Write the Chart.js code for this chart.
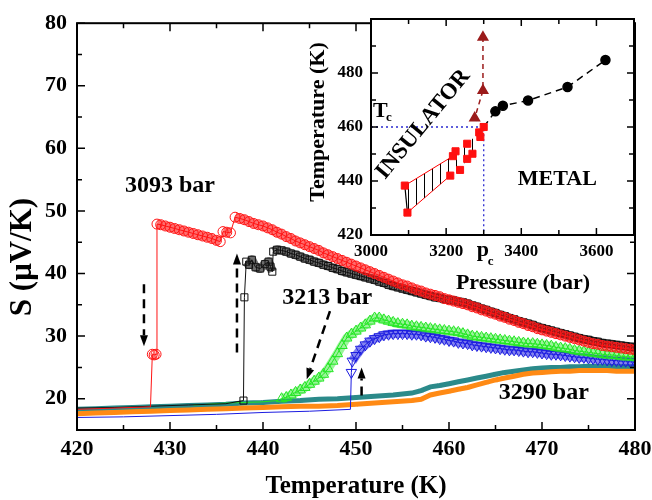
<!DOCTYPE html>
<html>
<head>
<meta charset="utf-8">
<script src="https://cdn.jsdelivr.net/npm/chart.js@4.4.1/dist/chart.umd.min.js"></script>
<style>
  html, body { margin: 0; padding: 0; background: #fff; }
  #wrap { position: relative; width: 652px; height: 500px; }
  #main { position: absolute; left: 0; top: 0; }
  #inset { position: absolute; left: 300px; top: 0; }
</style>
</head>
<body>
<div id="wrap">
  <canvas id="main" width="652" height="500"></canvas>
  <canvas id="inset" width="352" height="300"></canvas>
</div>
<script>
// ---- main panel: S(T) at three pressures ----
// 3093 bar, cooling (red circles); first points are the baseline below the jump
const redBase = 3;
const redT = [420, 424, 427.9, 428.1, 428.3, 428.5,
  428.6, 429, 429.5, 430, 430.5, 431, 431.5, 432, 432.5, 433, 433.5, 434, 434.5, 435, 435.4,
  435.7, 436.1, 436.5,
  437, 437.5, 438, 438.5, 439, 439.5,
  440, 440.5, 441, 441.5, 442, 442.5, 443, 443.5, 444, 444.5,
  445, 445.5, 446, 446.5, 447, 447.5, 448, 448.5, 449, 449.5,
  450, 450.5, 451, 451.5, 452, 452.5, 453, 453.5, 454, 454.5,
  455, 455.5, 456, 456.5, 457, 457.5, 458, 458.5, 459, 459.5,
  460, 460.5, 461, 461.5, 462, 462.5, 463, 463.5, 464, 464.5,
  465, 465.5, 466, 466.5, 467, 467.5, 468, 468.5, 469, 469.5,
  470, 470.5, 471, 471.5, 472, 472.5, 473, 473.5, 474, 474.5,
  475, 475.5, 476, 476.5, 477, 477.5, 478, 478.5, 479, 479.5, 480];
const redS = [18.3, 18.5, 18.7, 27.1, 27.0, 27.1,
  47.9, 47.8, 47.6, 47.4, 47.2, 47.0, 46.8, 46.6, 46.4, 46.2, 46.0, 45.8, 45.6, 45.3, 45.1,
  46.7, 46.6, 46.5,
  49.0, 48.8, 48.6, 48.3, 48.0, 47.8,
  47.6, 47.3, 47.0, 46.6, 46.3, 45.9, 45.6, 45.2, 44.9, 44.6,
  44.3, 44.0, 43.7, 43.3, 43.0, 42.7, 42.4, 42.1, 41.8, 41.5,
  41.2, 40.9, 40.6, 40.3, 40.0, 39.7, 39.4, 39.1, 38.8, 38.5,
  38.2, 38.0, 37.7, 37.4, 37.2, 36.9, 36.7, 36.5, 36.3, 36.0,
  35.8, 35.6, 35.4, 35.2, 35.0, 34.7, 34.5, 34.2, 34.0, 33.7,
  33.5, 33.2, 33.0, 32.7, 32.5, 32.2, 32.0, 31.7, 31.5, 31.2,
  31.0, 30.8, 30.6, 30.4, 30.2, 30.0, 29.8, 29.6, 29.4, 29.2,
  29.0, 28.8, 28.7, 28.5, 28.4, 28.3, 28.2, 28.1, 28.0, 27.9, 27.8];

// 3093 bar, heating (black squares)
const blackBase = 5;
const blackT = [420, 424, 428, 432, 436, 437.9,
  438.0, 438.2, 438.5, 438.8, 439.2, 439.7, 440.2, 440.6, 440.8, 441.0,
  441.1, 441.5, 442, 442.5, 443, 443.5, 444, 444.5,
  445, 445.5, 446, 446.5, 447, 447.5, 448, 448.5, 449, 449.5,
  450, 450.5, 451, 451.5, 452, 452.5, 453, 453.5, 454, 454.5,
  455, 455.5, 456, 456.5, 457, 457.5, 458, 458.5, 459, 459.5,
  460, 460.5, 461, 461.5, 462, 462.5, 463, 463.5, 464, 464.5,
  465, 465.5, 466, 466.5, 467, 467.5, 468, 468.5, 469, 469.5,
  470, 470.5, 471, 471.5, 472, 472.5, 473, 473.5, 474, 474.5,
  475, 475.5, 476, 476.5, 477, 477.5, 478, 478.5, 479, 479.5, 480];
const blackS = [18.5, 18.6, 18.8, 19.0, 19.2, 19.7,
  36.2, 41.9, 41.4, 42.2, 41.0, 40.8, 41.5, 41.9, 41.1, 40.3,
  43.5, 43.8, 43.7, 43.5, 43.2, 43.0, 42.7, 42.4,
  42.2, 41.9, 41.7, 41.4, 41.2, 40.9, 40.7, 40.4, 40.2, 40.0,
  39.8, 39.6, 39.4, 39.2, 39.0, 38.7, 38.5, 38.2, 38.0, 37.8,
  37.6, 37.4, 37.2, 37.0, 36.8, 36.6, 36.4, 36.2, 36.1, 35.9,
  35.8, 35.7, 35.5, 35.4, 35.2, 34.9, 34.7, 34.4, 34.2, 33.9,
  33.7, 33.4, 33.2, 32.9, 32.7, 32.4, 32.2, 32.0, 31.8, 31.5,
  31.3, 31.1, 30.9, 30.7, 30.5, 30.3, 30.1, 29.9, 29.7, 29.5,
  29.4, 29.2, 29.1, 28.9, 28.8, 28.7, 28.6, 28.5, 28.4, 28.3, 28.2];

// 3213 bar, heating (green up triangles)
const greenBase = 6;
const greenT = [432.5, 434, 436, 438, 440, 441.5,
  442, 442.5, 443, 443.5, 444, 444.5, 445, 445.5, 446, 446.5,
  447, 447.5, 448, 448.5, 449, 449.5, 450, 450.5, 451, 451.5,
  452, 452.5, 453, 453.5, 454, 454.5, 455, 455.5, 456, 456.5,
  457, 457.5, 458, 458.5, 459, 459.5, 460, 460.5, 461, 461.5,
  462, 462.5, 463, 463.5, 464, 464.5, 465, 465.5, 466, 466.5,
  467, 467.5, 468, 468.5, 469, 469.5, 470, 470.5, 471, 471.5,
  472, 472.5, 473, 473.5, 474, 474.5, 475, 475.5, 476, 476.5,
  477, 477.5, 478, 478.5, 479, 479.5, 480];
const greenS = [19.0, 19.1, 19.3, 19.4, 19.5, 19.7,
  20.0, 20.2, 20.6, 21.0, 21.4, 21.8, 22.3, 22.8, 23.3, 23.9,
  24.8, 26.0, 27.2, 28.5, 29.7, 30.3, 30.8, 31.3, 31.8, 32.4,
  32.9, 32.9, 32.6, 32.4, 32.2, 32.0, 31.9, 31.8, 31.6, 31.5,
  31.4, 31.3, 31.2, 31.1, 31.0, 30.9, 30.8, 30.7, 30.6, 30.4,
  30.2, 30.0, 29.9, 29.8, 29.7, 29.6, 29.5, 29.4, 29.3, 29.2,
  29.1, 29.0, 28.9, 28.8, 28.8, 28.7, 28.6, 28.5, 28.4, 28.2,
  28.1, 28.0, 27.9, 27.7, 27.6, 27.5, 27.4, 27.3, 27.2, 27.1,
  27.0, 27.0, 26.9, 26.8, 26.7, 26.7, 26.6];

// 3213 bar, cooling (blue down triangles)
const blueBase = 7;
const blueT = [420, 425, 430, 435, 440, 445, 449.4,
  449.5, 449.6,
  450, 450.5, 451, 451.5, 452, 452.5, 453, 453.5, 454, 454.5,
  455, 455.5, 456, 456.5, 457, 457.5, 458, 458.5, 459, 459.5,
  460, 460.5, 461, 461.5, 462, 462.5, 463, 463.5, 464, 464.5,
  465, 465.5, 466, 466.5, 467, 467.5, 468, 468.5, 469, 469.5,
  470, 470.5, 471, 471.5, 472, 472.5, 473, 473.5, 474, 474.5,
  475, 475.5, 476, 476.5, 477, 477.5, 478, 478.5, 479, 479.5, 480];
const blueS = [17.0, 17.1, 17.3, 17.5, 17.8, 18.0, 18.3,
  24.2, 26.0,
  26.9, 27.9, 28.6, 29.2, 29.6, 29.9, 30.2, 30.3, 30.4, 30.4,
  30.4, 30.4, 30.3, 30.3, 30.2, 30.0, 29.9, 29.8, 29.6, 29.5,
  29.3, 29.2, 29.0, 28.9, 28.8, 28.6, 28.5, 28.4, 28.3, 28.2,
  28.1, 28.0, 27.9, 27.8, 27.8, 27.7, 27.6, 27.5, 27.5, 27.4,
  27.3, 27.2, 27.1, 27.1, 27.0, 26.9, 26.8, 26.7, 26.6, 26.6,
  26.5, 26.4, 26.3, 26.3, 26.2, 26.1, 26.1, 26.0, 26.0, 25.9, 25.9];

// 3290 bar, two runs (teal and orange)
const tealT = [420, 422, 424, 426, 428, 430, 432, 434, 436, 438, 440, 442, 444, 446, 448, 450,
  452, 454, 456, 457, 458, 459, 460, 461, 462, 463, 464, 465, 466, 467, 468,
  469, 470, 471, 472, 473, 474, 475, 476, 477, 478, 479, 480];
const tealS = [18.3, 18.4, 18.5, 18.6, 18.7, 18.8, 18.9, 19.0, 19.1, 19.3, 19.4, 19.6, 19.7, 19.9, 20.0, 20.2,
  20.4, 20.6, 20.9, 21.3, 21.9, 22.1, 22.4, 22.7, 23.0, 23.3, 23.6, 23.9, 24.2, 24.4, 24.6,
  24.8, 24.9, 25.0, 25.0, 25.1, 25.1, 25.2, 25.2, 25.2, 25.1, 25.1, 25.1];
const orangeT = tealT;
const orangeS = [17.6, 17.7, 17.8, 17.9, 18.0, 18.1, 18.2, 18.3, 18.4, 18.5, 18.6, 18.7, 18.8, 18.8, 18.9, 19.1,
  19.3, 19.5, 19.7, 19.9, 20.6, 20.9, 21.2, 21.5, 21.8, 22.2, 22.6, 23.0, 23.3, 23.6, 23.9,
  24.1, 24.2, 24.3, 24.4, 24.4, 24.5, 24.5, 24.5, 24.5, 24.4, 24.4, 24.4];

// dashed arrows (from -> to, in T / S units)
const arrowT0 = [427.2, 437.2, 447.2, 450.6];
const arrowS0 = [38.3, 27.4, 34.0, 20.5];
const arrowT1 = [427.2, 437.2, 444.7, 450.6];
const arrowS1 = [28.4, 43.2, 23.1, 25.0];

const mainLabels = ['3093 bar', '3213 bar', '3290 bar'];
const mainLabelT = [430.0, 446.9, 470.2];
const mainLabelS = [54.0, 36.2, 21.0];

// ---- inset: phase diagram ----
const sqP = [3090, 3097, 3211, 3218, 3225, 3237, 3256, 3256, 3270, 3288, 3291, 3300];
const sqT = [438.3, 428.3, 442.0, 449.2, 451.0, 444.1, 453.8, 448.2, 450.1, 458.0, 456.3, 460.0];
const upperP = [3090, 3218, 3225, 3256, 3288, 3300];
const upperT = [438.3, 449.2, 451.0, 453.8, 458.0, 460.0];
const lowerP = [3097, 3211, 3237, 3256, 3270, 3291, 3300];
const lowerT = [428.3, 442.0, 444.1, 448.2, 450.1, 456.3, 460.0];
const triP = [3300, 3276, 3298, 3298];
const triT = [460.0, 463.3, 473.5, 493.2];
const metP = [3300, 3331, 3351, 3418, 3523, 3624];
const metT = [460.0, 465.8, 467.9, 469.8, 474.8, 484.8];
const pc = 3300;
const Tc = 460;

const FONT = "'Liberation Serif', 'Times New Roman', serif";
Chart.defaults.font.family = FONT;
Chart.defaults.font.weight = 'bold';
Chart.defaults.color = '#000';

const clear = 'rgba(0,0,0,0)';
const pts = (xs, ys) => xs.map((v, i) => ({x: v, y: ys[i]}));

function series(label, xs, ys, base, color, style, radius, order, extra) {
  return Object.assign({
    label: label,
    data: pts(xs, ys),
    order: order,
    showLine: true,
    borderColor: color,
    borderWidth: 1,
    tension: 0,
    pointStyle: style,
    pointBorderColor: color,
    pointBackgroundColor: clear,
    pointBorderWidth: 1,
    pointRadius: ctx => ctx.dataIndex < base ? 0 : radius
  }, extra || {});
}

// thick translucent stroke under the dense markers of a run, broken at jumps
function band(xs, ys, base, color, jump, order) {
  return {
    label: 'band',
    data: pts(xs.slice(base), ys.slice(base)),
    order: order,
    showLine: true,
    borderWidth: 9,
    borderColor: color,
    borderJoinStyle: 'round',
    tension: 0,
    pointRadius: 0,
    segment: {borderColor: c => Math.abs(c.p1.parsed.y - c.p0.parsed.y) < jump ? color : clear}
  };
}

// inward ticks on all four sides plus the box
function frameTicks(id, xMajor, yMajor, major, minor) {
  return {
    id: id,
    afterDraw(chart) {
      const {ctx, chartArea: a, scales: {x, y}} = chart;
      ctx.save();
      ctx.strokeStyle = '#000';
      ctx.lineWidth = 1.5;
      ctx.beginPath();
      x.ticks.forEach(t => {
        const p = x.getPixelForValue(t.value);
        const len = xMajor(t.value) ? major : minor;
        ctx.moveTo(p, a.bottom); ctx.lineTo(p, a.bottom - len);
        ctx.moveTo(p, a.top); ctx.lineTo(p, a.top + len);
      });
      y.ticks.forEach(t => {
        const p = y.getPixelForValue(t.value);
        const len = yMajor(t.value) ? major : minor;
        ctx.moveTo(a.left, p); ctx.lineTo(a.left + len, p);
        ctx.moveTo(a.right, p); ctx.lineTo(a.right - len, p);
      });
      ctx.stroke();
      ctx.lineWidth = 2;
      ctx.strokeRect(a.left, a.top, a.right - a.left, a.bottom - a.top);
      ctx.restore();
    }
  };
}

const mainDecor = {
  id: 'mainDecor',
  afterDatasetsDraw(chart) {
    const {ctx, scales: {x, y}} = chart;
    ctx.save();
    ctx.strokeStyle = '#000';
    ctx.fillStyle = '#000';
    arrowT0.forEach((t, i) => {
      const x0 = x.getPixelForValue(t), y0 = y.getPixelForValue(arrowS0[i]);
      const x1 = x.getPixelForValue(arrowT1[i]), y1 = y.getPixelForValue(arrowS1[i]);
      const a = Math.atan2(y1 - y0, x1 - x0);
      const head = 11, half = 4;
      const xe = x1 - Math.cos(a) * head, ye = y1 - Math.sin(a) * head;
      ctx.lineWidth = 2.5;
      ctx.setLineDash([9, 6]);
      ctx.beginPath(); ctx.moveTo(x0, y0); ctx.lineTo(xe, ye); ctx.stroke();
      ctx.setLineDash([]);
      ctx.beginPath();
      ctx.moveTo(x1, y1);
      ctx.lineTo(xe + Math.sin(a) * half, ye - Math.cos(a) * half);
      ctx.lineTo(xe - Math.sin(a) * half, ye + Math.cos(a) * half);
      ctx.closePath();
      ctx.fill();
    });
    ctx.font = 'bold 24px ' + FONT;
    ctx.textAlign = 'center';
    ctx.textBaseline = 'middle';
    mainLabels.forEach((s, i) => {
      ctx.fillText(s, x.getPixelForValue(mainLabelT[i]), y.getPixelForValue(mainLabelS[i]));
    });
    ctx.restore();
  },
  afterDraw(chart) {
    const ctx = chart.ctx;
    ctx.save();
    ctx.fillStyle = '#000';
    ctx.textAlign = 'center';
    ctx.textBaseline = 'middle';
    ctx.font = 'bold 25px ' + FONT;
    ctx.fillText('Temperature (K)', 356, 487);
    ctx.translate(23, 257);
    ctx.rotate(-Math.PI / 2);
    ctx.font = 'bold 31px ' + FONT;
    ctx.fillText('S (\u03bcV/K)', 0, 0);
    ctx.restore();
  }
};

const noSidePad = s => { s.paddingLeft = 0; s.paddingRight = 0; };

new Chart(document.getElementById('main'), {
  type: 'scatter',
  data: {
    datasets: [
      series('3093 bar cooling', redT, redS, redBase, '#ff1414', 'circle', 5, 1),
      band(redT, redS, redBase, 'rgba(255,20,20,0.62)', 1.4, 1.5),
      series('3093 bar heating', blackT, blackS, blackBase, '#111111', 'rect', 5, 2),
      band(blackT, blackS, blackBase, 'rgba(20,20,20,0.62)', 1.5, 2.5),
      series('3213 bar heating', greenT, greenS, greenBase, '#22e622', 'triangle', 6, 3),
      band(greenT, greenS, greenBase, 'rgba(34,230,34,0.45)', 2, 3.5),
      series('3213 bar cooling', blueT, blueS, blueBase, '#1c1ce0', 'triangle', 6, 4, {pointRotation: 180}),
      band(blueT, blueS, blueBase, 'rgba(28,28,224,0.55)', 1.5, 4.5),
      series('3290 bar run 2', orangeT, orangeS, 0, '#ff8a14', 'crossRot', 2.5, 5, {borderWidth: 5}),
      series('3290 bar run 1', tealT, tealS, 0, '#2b8a8a', 'crossRot', 2.5, 6, {borderWidth: 5})
    ]
  },
  options: {
    responsive: false,
    animation: false,
    events: [],
    layout: {padding: {left: 0, top: 20, right: 17, bottom: 0}},
    plugins: {legend: {display: false}, tooltip: {enabled: false}},
    scales: {
      x: {
        type: 'linear', min: 420, max: 480,
        grid: {display: false, drawTicks: false}, border: {display: false},
        ticks: {stepSize: 5, autoSkip: false, maxRotation: 0, padding: 6,
          font: {size: 22, weight: 'bold'},
          callback: v => v % 10 === 0 ? v : ''},
        afterFit: s => { s.height = 70; noSidePad(s); }
      },
      y: {
        min: 15, max: 80,
        grid: {display: false, drawTicks: false}, border: {display: false},
        ticks: {stepSize: 5, autoSkip: false, padding: 10,
          font: {size: 22, weight: 'bold'},
          callback: v => v % 10 === 0 ? v : ''},
        afterFit: s => { s.width = 77; }
      }
    }
  },
  plugins: [mainDecor, frameTicks('mainFrame', v => v % 10 === 0, v => v % 10 === 0, 8, 5)]
});

// ---- inset chart ----
const insetCanvas = document.getElementById('inset');
const insetCtx = insetCanvas.getContext('2d');
const tile = document.createElement('canvas');
tile.width = 8; tile.height = 8;
const tg = tile.getContext('2d');
tg.strokeStyle = '#000';
tg.lineWidth = 1;
tg.beginPath(); tg.moveTo(4.5, 0); tg.lineTo(4.5, 8); tg.stroke();
const hatch = insetCtx.createPattern(tile, 'repeat');

const firstRed = {borderColor: c => c.p0DataIndex === 0 ? '#ff0000' : clear};

const insetDecor = {
  id: 'insetDecor',
  beforeDatasetsDraw(chart) {
    const {ctx, chartArea: a} = chart;
    ctx.save();
    ctx.fillStyle = '#fff';
    ctx.fillRect(a.left, a.top, a.right - a.left, a.bottom - a.top);
    ctx.restore();
  },
  afterDraw(chart) {
    const {ctx, scales: {x, y}} = chart;
    ctx.save();
    ctx.fillStyle = '#000';
    ctx.textBaseline = 'middle';
    ctx.textAlign = 'center';
    ctx.font = 'bold 22px ' + FONT;
    ctx.fillText('METAL', x.getPixelForValue(3496), y.getPixelForValue(440.6));
    ctx.save();
    ctx.translate(x.getPixelForValue(3139), y.getPixelForValue(461.0));
    ctx.rotate(-50.5 * Math.PI / 180);
    ctx.font = 'bold 23px ' + FONT;
    ctx.fillText('INSULATOR', 0, 0);
    ctx.restore();
    ctx.fillText('Pressure (bar)', 223, 283);
    ctx.save();
    ctx.translate(18, 122);
    ctx.rotate(-Math.PI / 2);
    ctx.fillText('Temperature (K)', 0, 0);
    ctx.restore();
    ctx.textAlign = 'left';
    ctx.textBaseline = 'alphabetic';
    // T_c on the left, p_c under the axis
    const tx = x.getPixelForValue(3005), ty = y.getPixelForValue(463.7);
    ctx.font = 'bold 22px ' + FONT;
    ctx.fillText('T', tx, ty);
    const pxp = x.getPixelForValue(pc) - 7;
    ctx.fillText('p', pxp, 256);
    ctx.font = 'bold 13px ' + FONT;
    ctx.fillText('c', tx + 13, ty + 4);
    ctx.fillText('c', pxp + 11, 265);
    ctx.restore();
  }
};

new Chart(insetCanvas, {
  type: 'scatter',
  data: {
    datasets: [
      {label: 'upper', data: pts(upperP, upperT), showLine: true, fill: '+1', backgroundColor: hatch,
        borderWidth: 1, segment: firstRed, pointRadius: 0, order: 4},
      {label: 'lower', data: pts(lowerP, lowerT), showLine: true, fill: false,
        borderWidth: 1, segment: firstRed, pointRadius: 0, order: 4},
      {label: 'edge', data: pts([upperP[0], lowerP[0]], [upperT[0], lowerT[0]]), showLine: true,
        borderColor: '#000', borderWidth: 1.2, pointRadius: 0, order: 3},
      {label: 'critical', data: pts([3000, pc, pc], [Tc, Tc, 420]), showLine: true,
        borderColor: '#2a2ad0', borderWidth: 1.3, borderDash: [2, 3], pointRadius: 0, order: 3},
      {label: 'upper limit', data: pts(triP, triT), showLine: true,
        borderColor: '#9b1b1b', borderWidth: 1.5, borderDash: [5, 4],
        pointStyle: 'triangle', pointBackgroundColor: '#9b1b1b', pointBorderColor: '#9b1b1b',
        pointRadius: c => c.dataIndex === 0 ? 0 : 5.5, order: 2},
      {label: 'metal', data: pts(metP, metT), showLine: true,
        borderColor: '#000', borderWidth: 1.5, borderDash: [7, 5],
        pointStyle: 'circle', pointBackgroundColor: '#000', pointBorderColor: '#000',
        pointRadius: c => c.dataIndex === 0 ? 0 : 4.5, order: 2},
      {label: 'transition', data: pts(sqP, sqT), showLine: false,
        pointStyle: 'rect', pointBackgroundColor: '#ff1010', pointBorderColor: '#ff1010',
        pointRadius: 5, order: 1}
    ]
  },
  options: {
    responsive: false,
    animation: false,
    events: [],
    layout: {padding: {left: 0, top: 19, right: 18, bottom: 0}},
    plugins: {legend: {display: false}, tooltip: {enabled: false}},
    scales: {
      x: {
        type: 'linear', min: 3000, max: 3700,
        grid: {display: false, drawTicks: false}, border: {display: false},
        ticks: {stepSize: 100, autoSkip: false, maxRotation: 0, padding: 6,
          font: {size: 17, weight: 'bold'},
          callback: v => (v % 200 === 0 && v < 3700) ? v : ''},
        afterFit: s => { s.height = 65; noSidePad(s); }
      },
      y: {
        min: 420, max: 500,
        grid: {display: false, drawTicks: false}, border: {display: false},
        ticks: {stepSize: 10, autoSkip: false, padding: 8,
          font: {size: 17, weight: 'bold'},
          callback: v => (v % 20 === 0 && v < 500) ? v : ''},
        afterFit: s => { s.width = 71; }
      }
    }
  },
  plugins: [insetDecor, frameTicks('insetFrame', v => v % 200 === 0, v => v % 20 === 0, 7, 5)]
});
</script>
</body>
</html>
